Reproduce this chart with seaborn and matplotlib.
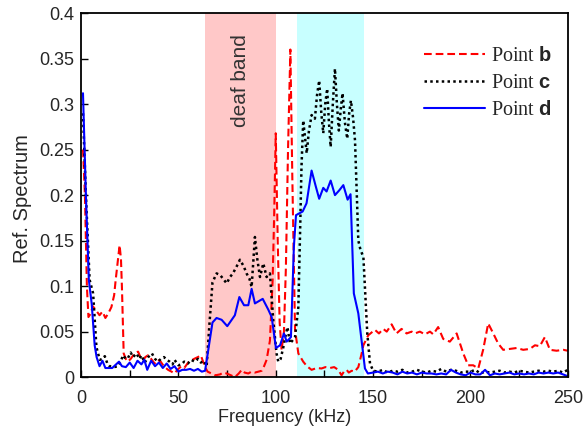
import matplotlib
matplotlib.use("Agg")
import matplotlib.pyplot as plt
from matplotlib.ticker import MultipleLocator
import seaborn as sns

# ---- spectra (frequency in kHz, reflection spectrum amplitude) ----
freq_b = [1.0, 2.0, 3.0, 3.8, 5.0, 6.0, 7.5, 9.5, 11, 12.5, 14, 15.6, 17, 17.8, 19, 19.8,
          20.5, 21, 21.9, 23, 24, 25.5, 27.5, 29.3, 30.5, 31.8, 33, 34.4, 36, 37.8, 39.5,
          40.9, 42.5, 44.7, 46.5, 48, 49.5, 51.5, 53, 55, 56.5, 58, 60, 61.5, 63.7, 65, 67,
          69, 71.4, 73, 74.8, 77, 79, 81, 82.5, 84, 85.9, 87.5, 89.3, 91, 92.8, 94, 95.3,
          97, 98.4, 99.2, 100, 101, 102, 103, 104.2, 105.2, 106.3, 107.5, 108.5, 109.9,
          111.6, 114.1, 116, 118.4, 121, 123.5, 125.5, 127.8, 130, 132.1, 133.8, 135,
          136.4, 137.5, 139, 140.5, 142.4, 144, 145, 147.5, 150.9, 153, 155.2, 157, 159.5,
          162, 164.6, 167.2, 169.8, 171.5, 174, 176.6, 179.2, 180.9, 183.4, 186, 189.4,
          192.9, 196.3, 198.8, 201.4, 204, 206.5, 209.1, 211.7, 214.2, 216.8, 220.2, 223.7,
          227.1, 230.5, 233.1, 235.6, 238.2, 240.8, 244.2, 247.6, 250]
spec_b = [0.25, 0.2, 0.1, 0.066, 0.07, 0.078, 0.074, 0.068, 0.072, 0.065, 0.07, 0.077, 0.09,
          0.107, 0.13, 0.145, 0.13, 0.099, 0.026, 0.02, 0.017, 0.02, 0.026, 0.028, 0.022,
          0.018, 0.022, 0.024, 0.02, 0.015, 0.019, 0.017, 0.012, 0.008, 0.006, 0.004, 0.008,
          0.012, 0.01, 0.016, 0.018, 0.02, 0.022, 0.024, 0.011, 0.006, 0.004, 0.002, 0.003,
          0.005, 0.004, 0.002, 0.0, 0.004, 0.008, 0.005, 0.004, 0.006, 0.005, 0.006, 0.007,
          0.012, 0.019, 0.04, 0.107, 0.18, 0.268, 0.15, 0.06, 0.03, 0.05, 0.12, 0.25, 0.36,
          0.22, 0.052, 0.026, 0.017, 0.012, 0.008, 0.01, 0.0095, 0.011, 0.01, 0.011, 0.008,
          0.002, 0.006, 0.008, 0.005, 0.007, 0.006, 0.011, 0.025, 0.035, 0.046, 0.052, 0.048,
          0.053, 0.05, 0.058, 0.048, 0.053, 0.048, 0.05, 0.048, 0.05, 0.047, 0.05, 0.047,
          0.055, 0.042, 0.039, 0.048, 0.026, 0.013, 0.013, 0.0095, 0.03, 0.059, 0.048, 0.037,
          0.03, 0.031, 0.032, 0.03, 0.031, 0.035, 0.034, 0.044, 0.03, 0.029, 0.03, 0.029]

freq_c = [1.0, 2.5, 4.4, 6.2, 7.9, 9.6, 11, 12.2, 13.5, 14.7, 17, 19, 20.5, 21.6, 23, 24.1,
          25.5, 26.7, 28.5, 30, 31, 32.7, 34.5, 36.4, 38, 39.5, 41, 42.6, 44, 45.5, 47, 48,
          50, 51.5, 53, 54.9, 56.5, 58.4, 60, 61.5, 63, 64.5, 66, 67.5, 69.6, 71.5, 73, 74.8,
          76.5, 78, 80, 81.6, 83.5, 85, 86.5, 87.6, 89.3, 90.5, 91.9, 93.6, 95.3, 97, 98.7,
          100.4, 101.3, 102.5, 103.9, 105, 106, 107.3, 108.5, 109.9, 111.6, 112.5, 113.2,
          114.1, 115.9, 117, 118.4, 120.1, 121.2, 122.3, 123.4, 124.4, 125.4, 126.4, 127.3,
          128.2, 129.3, 130.4, 131.4, 132.4, 133.4, 134.3, 135.5, 136.7, 137.7, 138.6, 139.7,
          140.7, 141.6, 142.4, 143.5, 145, 146, 147, 148.4, 150, 152.5, 155, 157.5, 160,
          162.5, 165, 167.5, 170, 172.5, 175, 177.5, 180, 182.5, 185, 187.5, 190, 192.5, 195,
          197.5, 200, 202.5, 205, 207.5, 210, 212.5, 215, 217.5, 220, 222.5, 225, 227.5, 230,
          232.5, 235, 237.5, 240, 242.5, 245, 247.5, 250]
spec_c = [0.29, 0.2, 0.107, 0.092, 0.033, 0.019, 0.02, 0.023, 0.015, 0.012, 0.011, 0.012,
          0.018, 0.024, 0.02, 0.021, 0.027, 0.022, 0.026, 0.02, 0.024, 0.016, 0.022, 0.026,
          0.02, 0.017, 0.02, 0.022, 0.019, 0.017, 0.014, 0.019, 0.013, 0.014, 0.017, 0.015,
          0.019, 0.017, 0.02, 0.016, 0.018, 0.012, 0.06, 0.104, 0.114, 0.112, 0.108, 0.103,
          0.11, 0.114, 0.122, 0.129, 0.122, 0.114, 0.108, 0.099, 0.154, 0.13, 0.11, 0.125,
          0.11, 0.114, 0.063, 0.026, 0.017, 0.02, 0.033, 0.045, 0.055, 0.037, 0.04, 0.044,
          0.077, 0.16, 0.23, 0.282, 0.246, 0.27, 0.288, 0.284, 0.31, 0.326, 0.29, 0.268, 0.3,
          0.317, 0.28, 0.253, 0.3, 0.339, 0.3, 0.271, 0.295, 0.312, 0.28, 0.262, 0.29, 0.304,
          0.285, 0.26, 0.2, 0.15, 0.14, 0.132, 0.09, 0.048, 0.015, 0.007, 0.006, 0.008, 0.005,
          0.007, 0.006, 0.008, 0.005, 0.006, 0.008, 0.006, 0.005, 0.007, 0.006, 0.009, 0.006,
          0.008, 0.007, 0.005, 0.006, 0.006, 0.008, 0.004, 0.006, 0.005, 0.006, 0.007, 0.005,
          0.006, 0.005, 0.007, 0.006, 0.005, 0.006, 0.007, 0.006, 0.007, 0.006, 0.007, 0.005,
          0.008]

freq_d = [1.0, 2.5, 4.0, 5.5, 7.0, 8.0, 9.5, 11, 12.5, 14, 16, 18, 19.5, 21, 23, 25, 27, 29,
          31, 32.5, 34, 36, 38, 40, 42, 44, 46, 48, 50, 52, 54, 56, 58, 60, 62, 63.7, 67.5,
          69.6, 72.2, 75.1, 79, 81.3, 83.7, 85.9, 87.6, 89.3, 93.3, 96.2, 97.9, 100.1, 102.2,
          104.2, 105.6, 107.8, 109.3, 110.4, 113.8, 115.8, 118.4, 120.5, 122.3, 124.4, 126.1,
          128.2, 130.4, 132.5, 134.7, 136.9, 138.4, 140.1, 142.4, 145.8, 147.3, 150, 152.5,
          155, 157.5, 160, 162.5, 165, 167.5, 170, 172.5, 175, 177.5, 180, 182.5, 185, 187.5,
          190, 192.5, 195, 197.5, 200, 202.5, 205, 207.5, 210, 212.5, 215, 217.5, 220, 222.5,
          225, 227.5, 230, 232.5, 235, 237.5, 240, 242.5, 245, 247.5, 250]
spec_d = [0.312, 0.2, 0.107, 0.08, 0.035, 0.022, 0.012, 0.018, 0.01, 0.01, 0.01, 0.014,
          0.017, 0.012, 0.011, 0.016, 0.01, 0.018, 0.014, 0.019, 0.008, 0.018, 0.012, 0.016,
          0.01, 0.015, 0.009, 0.012, 0.006, 0.008, 0.008, 0.009, 0.007, 0.009, 0.006, 0.007,
          0.06, 0.065, 0.063, 0.056, 0.068, 0.088, 0.079, 0.079, 0.097, 0.081, 0.086, 0.074,
          0.066, 0.032, 0.035, 0.048, 0.039, 0.044, 0.143, 0.178, 0.182, 0.191, 0.227, 0.21,
          0.196, 0.208, 0.204, 0.216, 0.2, 0.205, 0.211, 0.195, 0.201, 0.092, 0.07, 0.0095,
          0.004, 0.005, 0.006, 0.004, 0.006, 0.005, 0.003, 0.006, 0.004, 0.005, 0.003, 0.005,
          0.004, 0.004, 0.003, 0.004, 0.003, 0.008, 0.005, 0.003, 0.002, 0.005, 0.003, 0.003,
          0.008, 0.002, 0.004, 0.003, 0.004, 0.005, 0.003, 0.004, 0.003, 0.004, 0.003, 0.005,
          0.004, 0.005, 0.004, 0.005, 0.003, 0.001]

series_labels = ["Point $\\mathbf{b}$", "Point $\\mathbf{c}$", "Point $\\mathbf{d}$"]
deaf_band = (63.5, 100.0)
pass_band = (110.7, 145.5)

sns.set_style("ticks")
plt.rcParams["font.family"] = ["Liberation Sans", "DejaVu Sans"]
plt.rcParams["mathtext.fontset"] = "custom"
plt.rcParams["mathtext.rm"] = "Liberation Serif"
plt.rcParams["mathtext.bf"] = "Liberation Sans:bold"

fig = plt.figure(figsize=(5.83, 4.38), dpi=100)
ax = fig.add_axes([0.139, 0.139, 0.835, 0.831])

ax.axvspan(*deaf_band, color="#ffc8c8", lw=0, zorder=0)
ax.axvspan(*pass_band, color="#c8ffff", lw=0, zorder=0)
ax.text(82.0, 0.377, "deaf band", rotation=90, ha="center", va="top",
        fontsize=15, color="#333333")

sns.lineplot(x=freq_b, y=spec_b, ax=ax, color="#ff0000", linestyle=(0, (3.7, 1.9)),
             linewidth=1.5, label=series_labels[0], estimator=None)
sns.lineplot(x=freq_c, y=spec_c, ax=ax, color="black", linestyle=(0, (1, 1.3)),
             linewidth=1.8, label=series_labels[1], estimator=None)
sns.lineplot(x=freq_d, y=spec_d, ax=ax, color="#0000ff", linestyle="-",
             linewidth=1.5, label=series_labels[2], estimator=None)

ax.set_xlim(0, 250)
ax.set_ylim(0, 0.4)
ax.xaxis.set_major_locator(MultipleLocator(50))
ax.xaxis.set_minor_locator(MultipleLocator(25))
ax.set_yticks([0, 0.05, 0.1, 0.15, 0.2, 0.25, 0.3, 0.35, 0.4])
ax.set_yticklabels(["0", "0.05", "0.1", "0.15", "0.2", "0.25", "0.3", "0.35", "0.4"])
ax.tick_params(axis="both", which="both", direction="in", labelsize=13,
               color="black", width=1.0)
ax.tick_params(axis="both", which="major", length=5)
ax.tick_params(axis="x", which="minor", length=5)
ax.tick_params(axis="x", which="both", pad=9)
ax.tick_params(axis="y", which="both", pad=5)
for sp in ax.spines.values():
    sp.set_linewidth(1.3)
    sp.set_color("black")
    sp.set_visible(True)

ax.set_xlabel("Frequency (kHz)", fontsize=13)
ax.xaxis.set_label_coords(0.419, -0.087)
ax.set_ylabel("Ref. Spectrum", fontsize=14.5)
ax.yaxis.set_label_coords(-0.1, 0.49)

ax.legend(loc="upper right", bbox_to_anchor=(0.992, 0.94), frameon=False,
          prop={"family": "Liberation Serif", "size": 14.5}, handlelength=3.0,
          handletextpad=0.3, labelspacing=0.4, borderaxespad=0.2)

fig.savefig("out.png", dpi=100)
